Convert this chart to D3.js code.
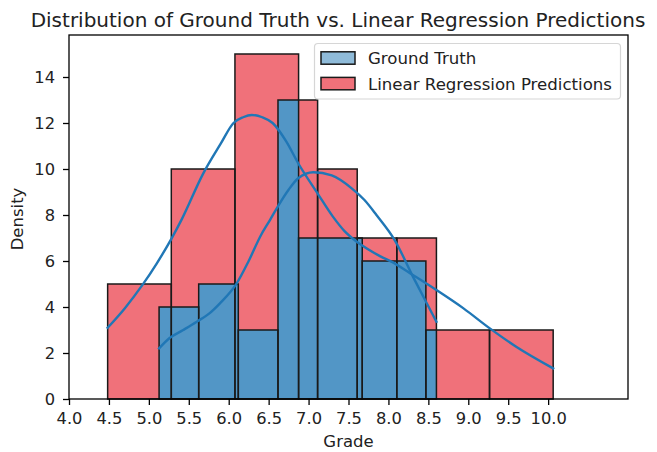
<!DOCTYPE html>
<html>
<head>
<meta charset="utf-8">
<script src="https://cdn.jsdelivr.net/npm/d3@7"></script>
<style>
  body { margin: 0; background: #fff; }
  svg { display: block; }
  text { font-family: "DejaVu Sans", sans-serif; fill: #222; }
</style>
</head>
<body>
<svg id="chart" width="657" height="452"></svg>
<script>
// Ground truth grades: histogram bin edges and counts
const gtEdges = [5.128, 5.624, 6.120, 6.617, 7.113, 7.609, 8.105, 8.601];
const gtCounts = [4, 5, 3, 13, 10, 7, 7];

// Linear regression predictions: histogram bin edges and counts
const predEdges = [4.484, 5.281, 6.078, 6.875, 7.672, 8.469, 9.266, 10.063];
const predCounts = [5, 10, 15, 7, 6, 3, 3];

// Kernel density estimates (scaled to counts)
const gtKdeX = [5.128, 5.26, 5.43, 5.60, 5.75, 5.89, 6.10, 6.25, 6.40, 6.52, 6.62, 6.75, 6.87, 7.06, 7.29, 7.54, 7.70, 7.85, 8.08, 8.31, 8.48, 8.601];
const gtKdeY = [2.2, 2.65, 3.0, 3.36, 3.7, 4.16, 5.03, 6.0, 7.1, 7.8, 8.4, 9.1, 9.6, 9.86, 9.72, 9.16, 8.65, 8.0, 6.9, 5.3, 4.16, 3.36];

const predKdeX = [4.484, 4.70, 4.92, 5.10, 5.28, 5.41, 5.68, 5.90, 6.06, 6.18, 6.29, 6.42, 6.55, 6.72, 6.87, 7.12, 7.30, 7.45, 7.60, 7.75, 7.90, 8.05, 8.27, 8.60, 8.94, 9.27, 9.60, 10.063];
const predKdeY = [3.1, 3.95, 4.96, 5.9, 6.95, 7.8, 9.8, 11.1, 12.0, 12.25, 12.35, 12.25, 12.0, 11.2, 10.25, 8.9, 7.95, 7.3, 6.85, 6.5, 6.2, 5.95, 5.47, 4.74, 3.94, 3.07, 2.27, 1.33];

const xTicks = [4.0, 4.5, 5.0, 5.5, 6.0, 6.5, 7.0, 7.5, 8.0, 8.5, 9.0, 9.5, 10.0];
const yTicks = [0, 2, 4, 6, 8, 10, 12, 14];
const seriesLabels = ["Ground Truth", "Linear Regression Predictions"];

const titleText = "Distribution of Ground Truth vs. Linear Regression Predictions";
const xLabel = "Grade";
const yLabel = "Density";

// Colours
const red = "#f0717a";
const overlapBlue = "#5296c6";
const legendBlue = "#8fbbd9";
const lineBlue = "#2077b6";
const edge = "#1a1a1a";

// Layout
const plot = { left: 69, right: 628, top: 35, bottom: 399 };

const svg = d3.select("#chart");

const x = d3.scaleLinear().domain([4, 11]).range([plot.left, plot.right]);
const y = d3.scaleLinear().domain([0, 364 / 23]).range([plot.bottom, plot.top]);

const toBars = (edges, counts) => counts.map((c, i) => ({ x0: edges[i], x1: edges[i + 1], h: c }));
const gtBars = toBars(gtEdges, gtCounts);
const predBars = toBars(predEdges, predCounts);

// Where both histograms cover the same area
const overlaps = [];
gtBars.forEach(g => predBars.forEach(p => {
  const x0 = Math.max(g.x0, p.x0), x1 = Math.min(g.x1, p.x1);
  if (x1 > x0) overlaps.push({ x0, x1, h: Math.min(g.h, p.h) });
}));

const bars = svg.append("g");

function fillBars(data, color) {
  bars.append("g").selectAll("rect").data(data).join("rect")
    .attr("x", d => x(d.x0))
    .attr("y", d => y(d.h))
    .attr("width", d => x(d.x1) - x(d.x0))
    .attr("height", d => y(0) - y(d.h))
    .attr("fill", color);
}
fillBars(predBars, red);
fillBars(gtBars, red);
fillBars(overlaps, overlapBlue);

function outlineBars(data) {
  bars.append("g").selectAll("rect").data(data).join("rect")
    .attr("x", d => x(d.x0))
    .attr("y", d => y(d.h))
    .attr("width", d => x(d.x1) - x(d.x0))
    .attr("height", d => y(0) - y(d.h))
    .attr("fill", "none")
    .attr("stroke", edge)
    .attr("stroke-width", 1.5);
}
outlineBars(predBars);
outlineBars(gtBars);

// KDE curves
const line = d3.line().x(d => x(d[0])).y(d => y(d[1])).curve(d3.curveMonotoneX);
[[gtKdeX, gtKdeY], [predKdeX, predKdeY]].forEach(([xs, ys]) => {
  svg.append("path")
    .attr("d", line(xs.map((v, i) => [v, ys[i]])))
    .attr("fill", "none")
    .attr("stroke", lineBlue)
    .attr("stroke-width", 2.4)
    .attr("stroke-linecap", "square");
});

// Axes
const xAxis = d3.axisBottom(x).tickValues(xTicks).tickFormat(d3.format(".1f"))
  .tickSize(6).tickPadding(7).tickSizeOuter(0);
const gx = svg.append("g").attr("transform", `translate(0,${plot.bottom})`).call(xAxis);

const yAxis = d3.axisLeft(y).tickValues(yTicks).tickFormat(d3.format("d"))
  .tickSize(6).tickPadding(8).tickSizeOuter(0);
const gy = svg.append("g").attr("transform", `translate(${plot.left},0)`).call(yAxis);

[gx, gy].forEach(g => {
  g.select(".domain").remove();
  g.selectAll(".tick line").attr("stroke", "#000").attr("stroke-width", 1.3);
  g.selectAll(".tick text").attr("font-size", 16.3).attr("fill", "#222")
    .attr("font-family", "DejaVu Sans, sans-serif");
});

// Frame
svg.append("rect")
  .attr("x", plot.left).attr("y", plot.top)
  .attr("width", plot.right - plot.left).attr("height", plot.bottom - plot.top)
  .attr("fill", "none").attr("stroke", "#000").attr("stroke-width", 1.3);

// Legend
const legend = svg.append("g");
legend.append("rect")
  .attr("x", 314.5).attr("y", 43.5).attr("width", 306).attr("height", 55.5)
  .attr("rx", 3.5).attr("fill", "#fff").attr("fill-opacity", 0.8)
  .attr("stroke", "#d6d6d6").attr("stroke-width", 1.2);
const legendColors = [legendBlue, red];
seriesLabels.forEach((lab, i) => {
  const cy = 58 + i * 25.6;
  legend.append("rect")
    .attr("x", 321).attr("y", cy - 6.2).attr("width", 34).attr("height", 12.4)
    .attr("fill", legendColors[i]).attr("stroke", edge).attr("stroke-width", 1.5);
  legend.append("text")
    .attr("x", 368).attr("y", cy + 6.3)
    .attr("font-size", 16.6)
    .text(lab);
});

// Title and axis labels
svg.append("text")
  .attr("x", 338).attr("y", 27)
  .attr("text-anchor", "middle").attr("font-size", 20)
  .text(titleText);

svg.append("text")
  .attr("x", (plot.left + plot.right) / 2).attr("y", 447)
  .attr("text-anchor", "middle").attr("font-size", 16.5)
  .text(xLabel);

svg.append("text")
  .attr("transform", `translate(23,${(plot.top + plot.bottom) / 2 + 2}) rotate(-90)`)
  .attr("text-anchor", "middle").attr("font-size", 16.5)
  .text(yLabel);
</script>
</body>
</html>
